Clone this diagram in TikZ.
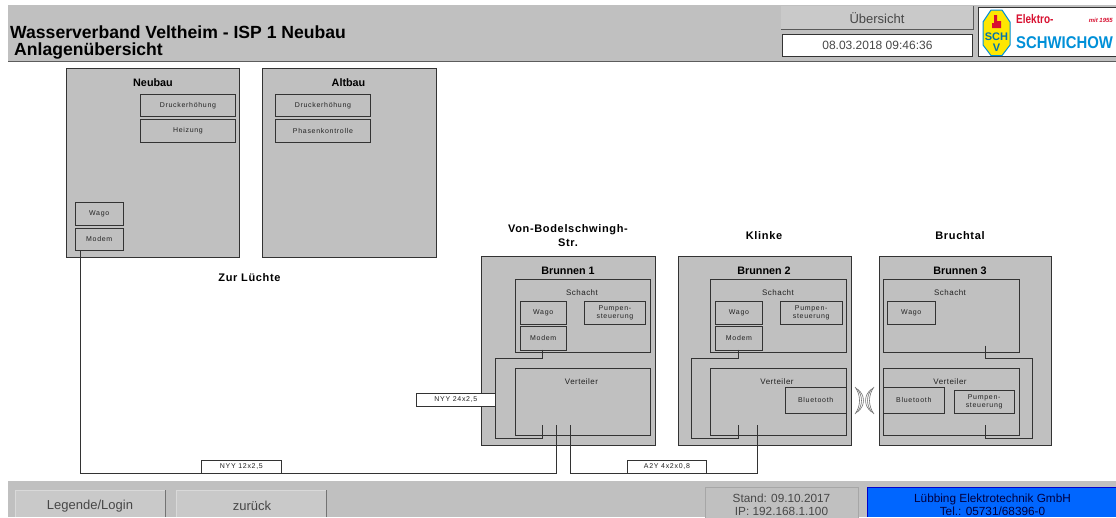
\documentclass[tikz,border=0pt]{standalone}
\usepackage{fontspec}
\setmainfont{Liberation Sans}
\definecolor{panel}{HTML}{C0C0C0}
\definecolor{edge}{HTML}{333333}
\definecolor{txt}{HTML}{222222}
\definecolor{blueb}{HTML}{0066FF}
\definecolor{logoblue}{HTML}{0090D8}
\definecolor{logored}{HTML}{D81030}
\tikzset{
 x=1pt,y=-1pt,
 panelbox/.style={draw=edge,fill=panel,line width=1pt,inner sep=0pt},
 sub/.style={draw=edge,fill=panel,line width=.9pt,inner sep=0pt},
 whitebox/.style={draw=edge,fill=white,line width=.8pt,inner sep=0pt},
 wire/.style={draw=edge,line width=.8pt},
 tiny/.style={font=\fontsize{7}{8.5}\selectfont\addfontfeature{LetterSpace=10},text=txt,align=center,inner sep=0pt},
 captxt/.style={font=\fontsize{8}{9}\selectfont\addfontfeature{LetterSpace=6},text=txt,align=center,inner sep=0pt},
 head/.style={font=\fontsize{10.8}{12}\selectfont\bfseries,text=black,align=center,inner sep=0pt},
 site/.style={font=\fontsize{11}{14}\selectfont\bfseries\addfontfeature{LetterSpace=6},text=black,align=center,inner sep=0pt},
 btn/.style={font=\fontsize{13}{13}\selectfont,text=black!72,align=center,inner sep=0pt},
 info/.style={font=\fontsize{11.8}{13}\selectfont,text=black!72,align=center,inner sep=0pt},
 wave/.style={draw=black!55,line width=.6pt},
}
\newcommand{\bx}[6][sub]{% style, name, x1,y1,x2,y2
 \node[#1,anchor=north west,minimum width=#5pt-#3pt,minimum height=#6pt-#4pt] (#2) at (#3,#4) {};}
\begin{document}
\begin{tikzpicture}
\useasboundingbox (0,0) rectangle (1116,517);
\fill[white] (0,0) rectangle (1116,517);
% header
\fill[panel] (8,5) rectangle (1116,61);
\draw[edge!80!white,line width=1.2pt] (8,61.5) -- (1116,61.5);
\node[font=\fontsize{17.6}{18}\selectfont\bfseries,anchor=base west,inner sep=0pt] (title1) at (10,38) {Wasserverband Veltheim - ISP 1 Neubau};
\node[font=\fontsize{17.6}{18}\selectfont\bfseries,anchor=base west,inner sep=0pt] (title2) at (14,55) {Anlagenübersicht};
\fill[panel!85!white] (781,6) rectangle (973,29);
\draw[black!65,line width=.9pt] (781,29) -- (973,29) -- (973,6);
\node[btn] (ueb) at (877,18.5) {Übersicht};
\bx[whitebox]{date}{782}{34}{972}{56}
\node[info,font=\fontsize{12}{13}\selectfont] at (date.center) {08.03.2018 09:46:36};
% logo
\fill[white] (978,7) rectangle (1116,56);
\draw[edge,line width=.8pt] (1116,7) -- (978,7) -- (978,56) -- (1116,56);
\draw[draw=logoblue,fill=yellow!90!orange,line width=1pt] (991,10)--(1002,10)--(1010,22)--(1010,45)--(1002,55.5)--(991,55.5)--(983,45)--(983,22)--cycle;
\node[font=\fontsize{11}{11}\selectfont\bfseries,text=logoblue!80!black,inner sep=0pt] (sch) at (996.5,36.5) {SCH};
\node[font=\fontsize{11}{11}\selectfont\bfseries,text=logoblue!80!black,inner sep=0pt] (v) at (996.5,47.5) {V};
\fill[logored] (994,15)--(997,15)--(997,21)--(1001,21)--(1001,28)--(992,28)--(992,23)--(994,23)--cycle;
\node[font=\fontsize{12.5}{12}\selectfont\bfseries,text=logored,anchor=west,inner sep=0pt] (el) at (1016,19) {\scalebox{.8}[1]{Elektro-}};
\node[font=\fontsize{6}{6}\selectfont\bfseries\itshape,text=logored,anchor=east,inner sep=0pt] (mit) at (1113,20.5) {mit 1955};
\node[font=\fontsize{17}{17}\selectfont\bfseries,text=logoblue,anchor=west,inner sep=0pt] (schw) at (1016,42.5) {\scalebox{.875}[1]{SCHWICHOW}};
% buildings
\bx[panelbox]{neu}{66}{68}{239}{257}
\bx[panelbox]{alt}{262}{68}{436}{257}
\node[head] at (153,83) {Neubau};
\node[head] at (348.5,83) {Altbau};
\bx{nd}{140}{94}{235}{116}
\node[tiny] at (nd.center) {Druckerhöhung};
\bx{nh}{140}{119}{235}{142}
\node[tiny] at (nh.center) {Heizung};
\bx{nw}{75}{202}{122.5}{225}
\node[tiny] at (nw.center) {Wago};
\bx{nm}{75}{228}{122.5}{250}
\node[tiny] at (nm.center) {Modem};
\bx{ad}{275}{94}{370}{116}
\node[tiny] at (ad.center) {Druckerhöhung};
\bx{ap}{275}{119}{370}{142}
\node[tiny] at (ap.center) {Phasenkontrolle};
\node[site] at (249.5,278) {Zur Lüchte};
% site labels
\node[site] at (568,236) {Von-Bodelschwingh-\\Str.};
\node[site] at (764,236) {Klinke};
\node[site] at (960,236) {Bruchtal};
% Brunnen 1
\bx[panelbox]{b1}{481}{256}{655}{445}
\node[head] at (568,271) {Brunnen 1};
\bx{s1}{514.5}{279}{650}{352}
\node[captxt] at (582,293) {Schacht};
\bx{w1}{519.5}{301}{566}{323.5}
\node[tiny] at (w1.center) {Wago};
\bx{m1}{519.5}{326}{566}{349.5}
\node[tiny] at (m1.center) {Modem};
\bx{p1}{584}{301}{645}{323.5}
\node[tiny] at (p1.center) {Pumpen-\\steuerung};
\bx{v1}{514.5}{368}{650}{435}
\node[captxt] at (581.5,382) {Verteiler};
% Brunnen 2
\bx[panelbox]{b2}{678}{256}{851}{445}
\node[head] at (764,271) {Brunnen 2};
\bx{s2}{710}{279}{845.5}{352}
\node[captxt] at (778,293) {Schacht};
\bx{w2}{715}{301}{762}{323.5}
\node[tiny] at (w2.center) {Wago};
\bx{m2}{715}{326}{762}{349.5}
\node[tiny] at (m2.center) {Modem};
\bx{p2}{780}{301}{841.5}{323.5}
\node[tiny] at (p2.center) {Pumpen-\\steuerung};
\bx{v2}{710}{368}{845.5}{435}
\node[captxt] at (777,382) {Verteiler};
\bx{bt2}{785}{387}{845.5}{412.7}
\node[tiny] at (bt2.center) {Bluetooth};
% Brunnen 3
\bx[panelbox]{b3}{878.7}{256}{1051}{445}
\node[head] at (960,271) {Brunnen 3};
\bx{s3}{883}{279}{1018.7}{352}
\node[captxt] at (950,293) {Schacht};
\bx{w3}{887}{301}{934.7}{323.5}
\node[tiny] at (w3.center) {Wago};
\bx{v3}{883}{368}{1018.7}{435}
\node[captxt] at (950,382) {Verteiler};
\bx{bt3}{883}{387}{943.7}{412.7}
\node[tiny] at (bt3.center) {Bluetooth};
\bx{p3}{953.7}{390}{1013.7}{413}
\node[tiny] at (p3.center) {Pumpen-\\steuerung};
% anchors
\coordinate (t1a) at (542.7,425);
\coordinate (t1b) at (556,425);
\coordinate (t1c) at (570,425);
\coordinate (t2a) at (738.3,425);
\coordinate (t2b) at (757,425);
\coordinate (t3s) at (985.3,345.7);
\coordinate (t3v) at (985.3,425);
% wires
\draw[wire] (542.7,349.5) |- (495,358) -- (495,438.7) -| (t1a);
\draw[wire] (738.3,349.5) |- (691.7,358) -- (691.7,438.7) -| (t2a);
\draw[wire] (t3s) |- (1032.7,358) -- (1032.7,438.7) -| (t3v);
\draw[wire] (80,250) |- (556,473) -- (t1b);
\draw[wire] (t1c) |- (757,473) -- (t2b);
% cable labels
\bx[whitebox]{c1}{416}{393}{495}{406}
\node[tiny] at (c1.center) {NYY 24x2,5};
\bx[whitebox]{c2}{201}{460}{281}{473}
\node[tiny] at (c2.center) {NYY 12x2,5};
\bx[whitebox]{c3}{627}{460}{706}{473}
\node[tiny] at (c3.center) {A2Y 4x2x0,8};
% radio
\foreach \d in {0,2.2,4.4}{
 \draw[wave] (855+.6*\d,387+.5*\d) .. controls (861+\d,395) and (861+\d,406) .. (855+.6*\d,414-.5*\d);
 \draw[wave] (874-.6*\d,387+.5*\d) .. controls (868-\d,395) and (868-\d,406) .. (874-.6*\d,414-.5*\d);
}
% footer
\fill[panel] (8,481) rectangle (1116,517);
\fill[panel!85!white] (15,490) rectangle (165,517);
\draw[black!55,line width=.9pt] (165,490) -- (165,517);
\draw[white!85!black,line width=.8pt] (15,517) -- (15,490) -- (165,490);
\node[btn] (leg) at (90,506) {Legende/Login};
\fill[panel!85!white] (176,490) rectangle (326,517);
\draw[black!55,line width=.9pt] (326,490) -- (326,517);
\draw[white!85!black,line width=.8pt] (176,517) -- (176,490) -- (326,490);
\node[btn] (zur) at (252,506) {zurück};
\draw[black!35,fill=panel,line width=1pt] (705,487.5) rectangle (858,518);
\node[info] (stand) at (781.5,505) {Stand: 09.10.2017\\IP: 192.168.1.100};
\fill[blueb] (867,487) rectangle (1116,517);
\draw[blue!80!black,line width=.8pt] (1116,487.5) -- (867.5,487.5) -- (867.5,517);
\node[info,text=black!75!blue] (lub) at (992.5,505) {Lübbing Elektrotechnik GmbH\\Tel.: 05731/68396-0};
\end{tikzpicture}
\end{document}
